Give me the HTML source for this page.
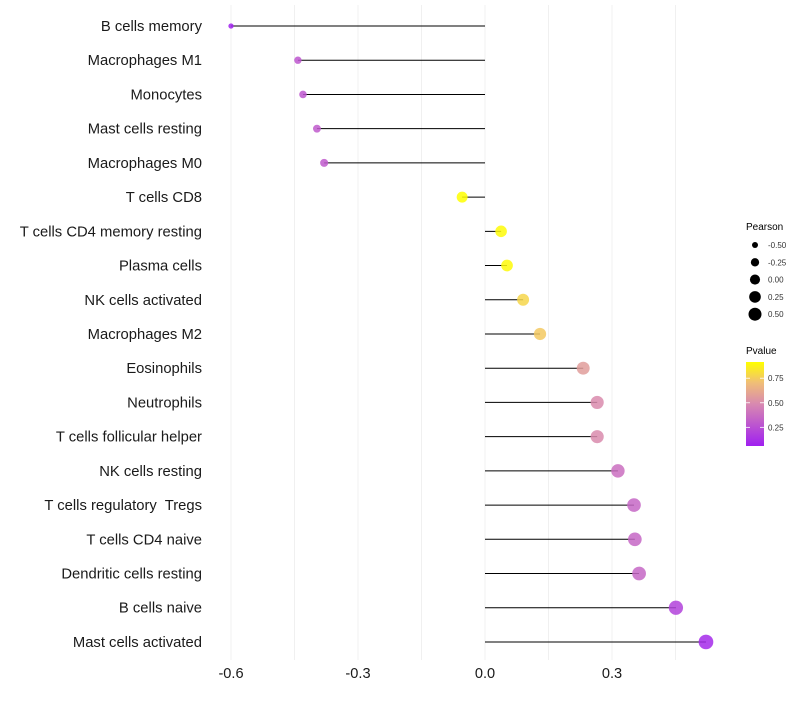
<!DOCTYPE html>
<html><head><meta charset="utf-8"><style>
body{margin:0;background:#fff;font-family:"Liberation Sans",sans-serif}
svg text{font-family:"Liberation Sans",sans-serif;white-space:pre}
</style></head><body>
<svg id="chart" width="800" height="700">
<defs><linearGradient id="pg" x1="0" y1="1" x2="0" y2="0">
<stop offset="0" stop-color="#a020f0"/><stop offset="0.5" stop-color="#d889b0"/><stop offset="0.75" stop-color="#f0bd78"/><stop offset="1" stop-color="#ffff00"/></linearGradient></defs>
<g id="grid"></g><g id="marks"></g><g id="labels"></g><g id="xticks"></g>
<g id="legend">
<text x="746" y="230" font-size="10" fill="#000">Pearson</text>
<g id="sizeleg"></g>
<text x="746" y="354" font-size="10" fill="#000">Pvalue</text>
<rect x="746" y="362" width="18" height="84" fill="url(#pg)"/>
<g id="cbticks"></g>
</g>
</svg>
<script>
const categories=["B cells memory","Macrophages M1","Monocytes","Mast cells resting","Macrophages M0","T cells CD8","T cells CD4 memory resting","Plasma cells","NK cells activated","Macrophages M2","Eosinophils","Neutrophils","T cells follicular helper","NK cells resting","T cells regulatory  Tregs","T cells CD4 naive","Dendritic cells resting","B cells naive","Mast cells activated"];
const pearson=[-0.6,-0.442,-0.43,-0.397,-0.38,-0.054,0.038,0.052,0.09,0.13,0.232,0.265,0.265,0.314,0.352,0.354,0.364,0.451,0.522];
const pvalues=[0.07,0.28,0.28,0.3,0.3,0.92,0.9,0.9,0.78,0.74,0.57,0.5,0.5,0.38,0.35,0.35,0.35,0.2,0.1];
const xTicks=[-0.6,-0.3,0.0,0.3];
const xTickLabels=["-0.6","-0.3","0.0","0.3"];
const sizeLegendValues=[-0.5,-0.25,0,0.25,0.5];
const sizeLegendLabels=["-0.50","-0.25","0.00","0.25","0.50"];
const cbValues=[0.25,0.5,0.75];
const cbLabels=["0.25","0.50","0.75"];
const NS="http://www.w3.org/2000/svg";
const x=v=>485+v*423.3;
const y=i=>26+i*34.22;
const r=v=>Math.sqrt(Math.max(2,25.6+33.25*v));
const rp=v=>1.12*r(v);
const cbY=p=>446-(p-0.06)/(0.915-0.06)*84;
const stops=[[0.06,[160,32,240]],[0.49,[216,137,176]],[0.7,[240,189,120]],[0.915,[255,255,0]]];
function col(p){if(p<=stops[0][0])return `rgb(${stops[0][1]})`;for(let k=1;k<stops.length;k++){if(p<=stops[k][0]){const a=stops[k-1],b=stops[k],t=(p-a[0])/(b[0]-a[0]);return `rgb(${a[1].map((c,j)=>Math.round(c+(b[1][j]-c)*t))})`;}}return 'rgb(255,255,0)';}
function mk(tag,at,parent){const e=document.createElementNS(NS,tag);for(const k in at)e.setAttribute(k,at[k]);document.getElementById(parent).appendChild(e);return e;}
for(let k=0;k<=7;k++){const v=-0.6+k*0.15;const g=mk('line',{x1:x(v),x2:x(v),y1:5,y2:660,stroke:'#f0f0f0','stroke-width':1},'grid');

}
categories.forEach((c,i)=>{
const l=mk('line',{x1:x(0),x2:x(pearson[i]),y1:y(i),y2:y(i),stroke:'#000','stroke-width':1},'marks');


const d=mk('circle',{cx:x(pearson[i]),cy:y(i),r:rp(pearson[i]),fill:col(pvalues[i]),'fill-opacity':0.85},'marks');


const t=mk('text',{x:202,y:y(i)+5,'text-anchor':'end','font-size':14.8,fill:'#1a1a1a'},'labels');t.textContent=c;


});
xTicks.forEach((v,i)=>{const t=mk('text',{x:x(v),y:678,'text-anchor':'middle','font-size':14.6,fill:'#1a1a1a'},'xticks');t.textContent=xTickLabels[i];

});
sizeLegendValues.forEach((v,i)=>{const cy=245+i*17.3;
const c=mk('circle',{cx:755,cy:cy,r:r(v),fill:'#000'},'sizeleg');


const t=mk('text',{x:768,y:cy+3,'font-size':8,fill:'#333'},'sizeleg');t.textContent=sizeLegendLabels[i];

});
cbValues.forEach((v,i)=>{const yy=cbY(v);
mk('line',{x1:746,x2:750,y1:yy,y2:yy,stroke:'#fff','stroke-width':0.8},'cbticks');
mk('line',{x1:760,x2:764,y1:yy,y2:yy,stroke:'#fff','stroke-width':0.8},'cbticks');
const t=mk('text',{x:768,y:yy+3,'font-size':8,fill:'#333'},'cbticks');t.textContent=cbLabels[i];

});
</script>
</body></html>
